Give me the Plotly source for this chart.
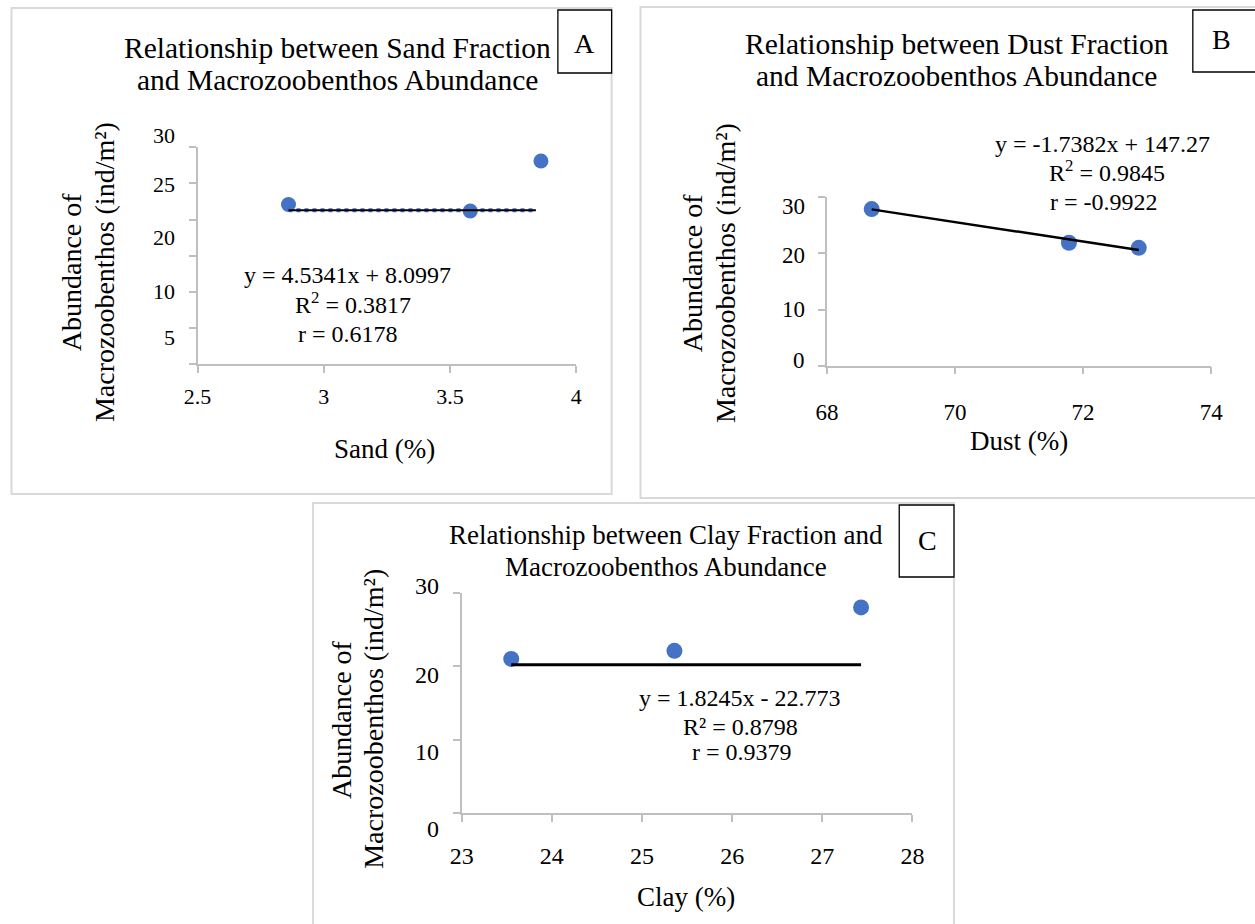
import plotly.graph_objects as go

# ---------------- data ----------------
sand = [2.86, 3.58, 3.86]
abund_sand = [22.1, 21.2, 28.1]
dust = [68.7, 71.78, 72.87]
abund_dust = [27.9, 21.9, 21.0]
clay = [23.55, 25.36, 27.43]
abund_clay = [21.0, 22.1, 28.0]

trend_sand_x = [2.86, 3.84]
trend_sand_y = [21.3, 21.3]
trend_dust_x = [68.7, 72.87]
trend_dust_y = [27.85, 20.6]
trend_clay_x = [23.55, 27.43]
trend_clay_y = [20.2, 20.2]

xticks_a = [2.5, 3, 3.5, 4]
xticklabels_a = ["2.5", "3", "3.5", "4"]
xticks_b = [68, 70, 72, 74]
xticklabels_b = ["68", "70", "72", "74"]
xticks_c = [23, 24, 25, 26, 27, 28]
xticklabels_c = ["23", "24", "25", "26", "27", "28"]

yticklabels_a = ["30", "25", "20", "10", "5"]
yticklabels_b = ["30", "20", "10", "0"]
yticklabels_c = ["30", "20", "10", "0"]

eq_a = ["y = 4.5341x + 8.0997", "R<sup>2</sup> = 0.3817", "r = 0.6178"]
eq_b = ["y = -1.7382x + 147.27", "R<sup>2</sup> = 0.9845", "r = -0.9922"]
eq_c = ["y = 1.8245x - 22.773", "R² = 0.8798", "r = 0.9379"]

title_a = ["Relationship between Sand Fraction", "and Macrozoobenthos Abundance"]
title_b = ["Relationship between Dust Fraction", "and Macrozoobenthos Abundance"]
title_c = ["Relationship between Clay Fraction and", "Macrozoobenthos Abundance"]
ytitle = ["Abundance of", "Macrozoobenthos (ind/m²)"]
xtitle_a = "Sand (%)"
xtitle_b = "Dust (%)"
xtitle_c = "Clay (%)"

# ---------------- layout helpers ----------------
W, H = 1255, 924
FONT = "Liberation Serif, Times New Roman, serif"
BLUE = "#4472C4"
AXC = "#bfbfbf"
FRAME = "#d9d9d9"
# the page is photographed slightly narrowed and centred; correct horizontal placement
SX, OX = 0.984, 12.5

# pixel geometry of the three plot areas: (x_left, x_right, y_bottom, y_top)
AREA_A = (197, 577.5, 364.3, 147.3)
AREA_B = (829.3, 1215.4, 365.7, 197.3)
AREA_C = (462.3, 915.3, 813.3, 592.7)
YMAX = 30


def fx(px):
    return (px - OX) / SX / W


def fy(py):
    return 1 - py / H


def ylab_py(area, v):
    return area[2] - v / YMAX * (area[2] - area[3])


fig = go.Figure()

fig.add_trace(go.Scatter(x=sand, y=abund_sand, mode="markers", xaxis="x", yaxis="y",
                         marker=dict(color=BLUE, size=15), showlegend=False))
fig.add_trace(go.Scatter(x=trend_sand_x, y=trend_sand_y, mode="lines", xaxis="x", yaxis="y",
                         line=dict(color=BLUE, width=4, dash="dot"), showlegend=False))
fig.add_trace(go.Scatter(x=trend_sand_x, y=trend_sand_y, mode="lines", xaxis="x", yaxis="y",
                         line=dict(color="black", width=2), showlegend=False))

fig.add_trace(go.Scatter(x=dust, y=abund_dust, mode="markers", xaxis="x2", yaxis="y2",
                         marker=dict(color=BLUE, size=16), showlegend=False))
fig.add_trace(go.Scatter(x=trend_dust_x, y=trend_dust_y, mode="lines", xaxis="x2", yaxis="y2",
                         line=dict(color="black", width=2.5), showlegend=False))

fig.add_trace(go.Scatter(x=clay, y=abund_clay, mode="markers", xaxis="x3", yaxis="y3",
                         marker=dict(color=BLUE, size=16), showlegend=False))
fig.add_trace(go.Scatter(x=trend_clay_x, y=trend_clay_y, mode="lines", xaxis="x3", yaxis="y3",
                         line=dict(color="black", width=3), showlegend=False))


def xaxis(area, rng, tv, tt, size, standoff, anchor):
    return dict(domain=[fx(area[0]), fx(area[1])], range=rng, tickvals=tv, ticktext=tt,
                showline=True, linecolor=AXC, linewidth=1.5, ticks="outside", ticklen=7,
                tickcolor=AXC, tickwidth=1.5, showgrid=False, zeroline=False, anchor=anchor,
                tickfont=dict(family=FONT, size=size, color="black"),
                ticklabelstandoff=standoff, fixedrange=True)


def yaxis(area, dtick, anchor):
    return dict(domain=[fy(area[2]), fy(area[3])], range=[0, YMAX], tick0=0, dtick=dtick,
                showline=True, linecolor=AXC, linewidth=1.5, ticks="outside", ticklen=7,
                tickcolor=AXC, tickwidth=1.5, showgrid=False, zeroline=False, anchor=anchor,
                showticklabels=False, fixedrange=True)


fig.update_layout(
    width=W, height=H, margin=dict(l=0, r=0, t=0, b=0), autosize=False,
    paper_bgcolor="white", plot_bgcolor="white", showlegend=False,
    xaxis=xaxis(AREA_A, [2.5, 4], xticks_a, xticklabels_a, 22, 5, "y"),
    yaxis=yaxis(AREA_A, 5, "x"),
    xaxis2=xaxis(AREA_B, [68, 74], xticks_b, xticklabels_b, 23, 18, "y2"),
    yaxis2=yaxis(AREA_B, 10, "x2"),
    xaxis3=xaxis(AREA_C, [23, 28], xticks_c, xticklabels_c, 24, 13, "y3"),
    yaxis3=yaxis(AREA_C, 10, "x3"),
)

shapes = []
for (x0, y0, x1, y1) in [(10, 8, 613, 494), (642, 7, 1275, 498), (313, 503, 957, 930)]:
    shapes.append(dict(type="rect", xref="paper", yref="paper", x0=fx(x0), x1=fx(x1),
                       y0=fy(y1), y1=fy(y0), line=dict(color=FRAME, width=2),
                       fillcolor="rgba(0,0,0,0)", layer="below"))
for (x0, y0, x1, y1) in [(559, 10, 613, 73), (1197, 10, 1262, 72), (902, 505, 957, 577)]:
    shapes.append(dict(type="rect", xref="paper", yref="paper", x0=fx(x0), x1=fx(x1),
                       y0=fy(y1), y1=fy(y0), line=dict(color="black", width=1.3),
                       fillcolor="white"))
fig.update_layout(shapes=shapes)

ann = []


def text(t, x, y, size, angle=0, xanchor="center"):
    ann.append(dict(text=t, x=fx(x), y=fy(y), xref="paper", yref="paper", showarrow=False,
                    xanchor=xanchor, yanchor="middle", textangle=angle,
                    font=dict(family=FONT, size=size, color="black")))


text("A", 586, 43, 28)
text("B", 1226, 40, 28)
text("C", 930, 540, 28)

for t, yy in zip(title_a, [48, 80]):
    text(t, 338, yy, 29.5)
for t, yy in zip(title_b, [44, 76]):
    text(t, 960, yy, 29.5)
for t, yy in zip(title_c, [535, 567]):
    text(t, 668, yy, 27)

for t, xx in zip(ytitle, [70, 103]):
    text(t, xx, 272, 28, angle=-90)
for t, xx in zip(ytitle, [695, 728]):
    text(t, xx, 273, 28, angle=-90)
for t, xx in zip(ytitle, [341, 373]):
    text(t, xx, 719, 28, angle=-90)

text(xtitle_a, 385, 449, 27)
text(xtitle_b, 1022, 441, 27)
text(xtitle_c, 688, 897, 27)

for t, (xx, yy) in zip(eq_a, [(348, 275), (353, 303), (348, 334)]):
    text(t, xx, yy, 24)
for t, (xx, yy) in zip(eq_b, [(1106, 144), (1111, 171), (1108, 202)]):
    text(t, xx, yy, 24)
for t, (xx, yy) in zip(eq_c, [(742, 698), (743, 727), (744, 752)]):
    text(t, xx, yy, 24)

ylab_pos_a = [31.7, 24.8, 17.5, 10.0, 3.65]
ylab_pos_b = [28.3, 19.6, 10.0, 0.9]
ylab_pos_c = [30.95, 18.8, 8.34, -2.1]
for t, v in zip(yticklabels_a, ylab_pos_a):
    text(t, 176, ylab_py(AREA_A, v), 22, xanchor="right")
for t, v in zip(yticklabels_b, ylab_pos_b):
    text(t, 809, ylab_py(AREA_B, v), 23, xanchor="right")
for t, v in zip(yticklabels_c, ylab_pos_c):
    text(t, 442, ylab_py(AREA_C, v), 24, xanchor="right")

fig.update_layout(annotations=ann)

fig.write_html("out.html", config={"displayModeBar": False},
               post_script="document.body.style.margin='0';document.body.style.overflow='hidden';")
